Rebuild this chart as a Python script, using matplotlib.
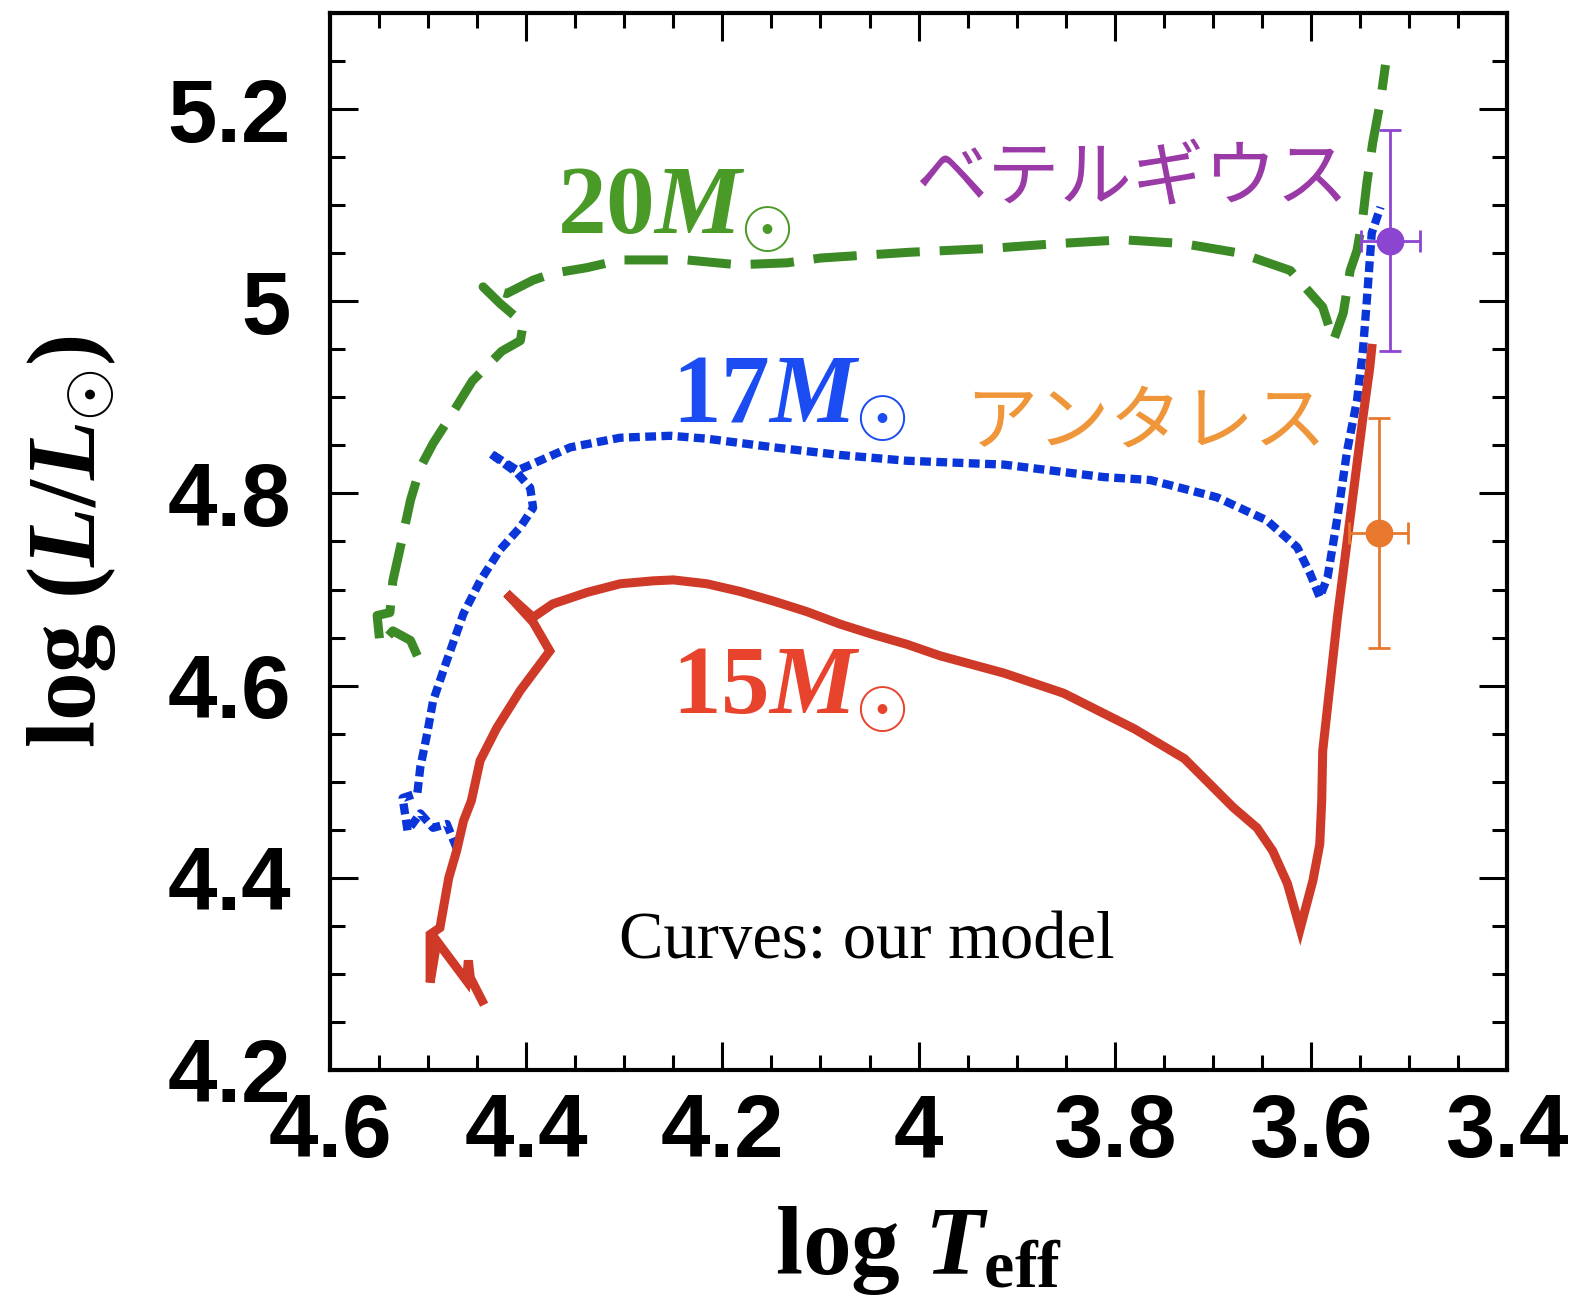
import matplotlib
matplotlib.use("Agg")
import matplotlib.pyplot as plt
from matplotlib.ticker import MultipleLocator, FormatStrFormatter

plt.rcParams['mathtext.fontset'] = 'custom'
plt.rcParams['mathtext.rm'] = 'Liberation Serif:bold'
plt.rcParams['mathtext.bf'] = 'Liberation Serif:bold'
plt.rcParams['mathtext.it'] = 'Liberation Serif:italic:bold'

# evolutionary tracks (log Teff, log L)
t15 = [4.445, 4.457, 4.459, 4.461, 4.491, 4.498, 4.498, 4.488, 4.479, 4.471,
       4.464, 4.456, 4.447, 4.430, 4.406, 4.376, 4.393, 4.420, 4.393, 4.373,
       4.338, 4.304, 4.271, 4.250, 4.216, 4.182, 4.148, 4.114, 4.080, 4.046,
       4.012, 3.978, 3.913, 3.852, 3.780, 3.729, 3.679, 3.655, 3.639, 3.624,
       3.611, 3.598, 3.591, 3.589, 3.588, 3.573, 3.560, 3.547, 3.540, 3.538]
l15 = [4.272, 4.296, 4.314, 4.293, 4.334, 4.291, 4.341, 4.348, 4.400, 4.428,
       4.459, 4.480, 4.522, 4.556, 4.595, 4.636, 4.666, 4.696, 4.671, 4.685,
       4.697, 4.706, 4.709, 4.710, 4.706, 4.698, 4.688, 4.677, 4.664, 4.653,
       4.643, 4.631, 4.613, 4.592, 4.555, 4.524, 4.473, 4.452, 4.428, 4.394,
       4.347, 4.397, 4.435, 4.480, 4.532, 4.671, 4.775, 4.879, 4.931, 4.951]

t17 = [4.471, 4.481, 4.495, 4.508, 4.521, 4.526, 4.511, 4.508, 4.501, 4.495,
       4.481, 4.464, 4.447, 4.427, 4.406, 4.393, 4.396, 4.409, 4.437, 4.409,
       4.393, 4.355, 4.304, 4.253, 4.216, 4.148, 4.080, 4.012, 3.913, 3.811,
       3.764, 3.696, 3.645, 3.614, 3.601, 3.591, 3.583, 3.573, 3.563, 3.553,
       3.547, 3.543, 3.538, 3.529]
l17 = [4.431, 4.456, 4.452, 4.467, 4.449, 4.483, 4.488, 4.515, 4.550, 4.584,
       4.626, 4.675, 4.709, 4.741, 4.765, 4.785, 4.806, 4.821, 4.842, 4.824,
       4.831, 4.848, 4.858, 4.860, 4.857, 4.848, 4.840, 4.834, 4.830, 4.817,
       4.814, 4.796, 4.772, 4.744, 4.717, 4.692, 4.713, 4.775, 4.845, 4.897,
       4.949, 5.001, 5.071, 5.098]

t20 = [4.511, 4.518, 4.536, 4.549, 4.552, 4.539, 4.536, 4.529, 4.518, 4.508,
       4.495, 4.478, 4.455, 4.425, 4.406, 4.403, 4.427, 4.444, 4.420, 4.393,
       4.373, 4.338, 4.304, 4.271, 4.236, 4.185, 4.134, 4.100, 4.009, 3.927,
       3.859, 3.791, 3.730, 3.672, 3.621, 3.588, 3.577, 3.567, 3.560, 3.553,
       3.547, 3.543, 3.537, 3.529, 3.524]
l20 = [4.631, 4.647, 4.657, 4.642, 4.673, 4.676, 4.709, 4.741, 4.793, 4.827,
       4.852, 4.879, 4.917, 4.948, 4.959, 4.977, 4.998, 5.015, 5.008, 5.022,
       5.029, 5.035, 5.043, 5.043, 5.043, 5.038, 5.040, 5.045, 5.051, 5.055,
       5.060, 5.064, 5.060, 5.050, 5.032, 4.994, 4.959, 4.988, 5.032, 5.053,
       5.088, 5.123, 5.165, 5.209, 5.246]

# observed stars
star_names = ['ベテルギウス', 'アンタレス']
star_logt = [3.519, 3.531]
star_logt_err = [0.030, 0.030]
star_logl = [5.063, 4.759]
star_logl_err = [0.115, 0.120]

fig = plt.figure(figsize=(15.74, 13.01), dpi=100)
ax = fig.add_axes([0.2097, 0.1776, 0.7478, 0.8124])

ax.plot(t20, l20, color='#3b8a26', lw=6.5, dashes=(4.8, 2.2),
        dash_capstyle='butt', solid_joinstyle='miter')
ax.plot(t17, l17, color='#0a35d8', lw=6, dashes=(1.3, 0.65),
        dash_capstyle='butt')
ax.plot(t15, l15, color='#cf3a28', lw=6.5, solid_joinstyle='miter')

ax.errorbar(star_logt[0], star_logl[0], xerr=star_logt_err[0],
            yerr=star_logl_err[0], fmt='o', ms=19, color='#8b45d1',
            elinewidth=2, capsize=8, capthick=2)
ax.errorbar(star_logt[1], star_logl[1], xerr=star_logt_err[1],
            yerr=star_logl_err[1], fmt='o', ms=19, color='#e8782e',
            elinewidth=2, capsize=8, capthick=2)

ax.text(4.369, 5.071, r'$20M_{\odot}$', color='#4a9a28', fontsize=70,
        ha='left', va='baseline')
ax.text(4.251, 4.874, r'$17M_{\odot}$', color='#1a4cf2', fontsize=70,
        ha='left', va='baseline')
ax.text(4.251, 4.571, r'$15M_{\odot}$', color='#e8432c', fontsize=70,
        ha='left', va='baseline')

ax.text(3.782, 5.126, star_names[0], color='#9a3aa6', fontsize=52,
        family='Noto Sans CJK JP', ha='center', va='center')
ax.text(3.768, 4.873, star_names[1], color='#f0963a', fontsize=52,
        family='Noto Sans CJK JP', ha='center', va='center')

ax.text(4.0525, 4.316, 'Curves: our model', family='Liberation Serif',
        fontsize=48, ha='center', va='baseline')

ax.set_xlim(4.6, 3.4)
ax.set_ylim(4.2, 5.3)

ax.xaxis.set_major_locator(MultipleLocator(0.2))
ax.xaxis.set_minor_locator(MultipleLocator(0.05))
ax.yaxis.set_major_locator(MultipleLocator(0.2))
ax.yaxis.set_minor_locator(MultipleLocator(0.05))
ax.xaxis.set_major_formatter(FormatStrFormatter('%g'))
ax.yaxis.set_major_formatter(FormatStrFormatter('%g'))

ax.tick_params(which='both', direction='in', top=True, right=True, width=2.2)
ax.tick_params(which='major', length=20)
ax.tick_params(which='minor', length=11)
ax.tick_params(axis='x', which='major', pad=16)
ax.tick_params(axis='y', which='major', pad=28)
for lab in ax.get_xticklabels() + ax.get_yticklabels():
    lab.set_family('Liberation Sans')
    lab.set_fontweight('bold')
    lab.set_fontsize(64)
for s in ax.spines.values():
    s.set_linewidth(3)

ax.set_xlabel(r'$\mathrm{log}\ T_{\mathrm{eff}}$', fontsize=70, labelpad=20)
ax.set_ylabel(r'$\mathrm{log}\ (L/L_{\odot})$', fontsize=70, labelpad=36)

fig.savefig('out.png', dpi=100)
